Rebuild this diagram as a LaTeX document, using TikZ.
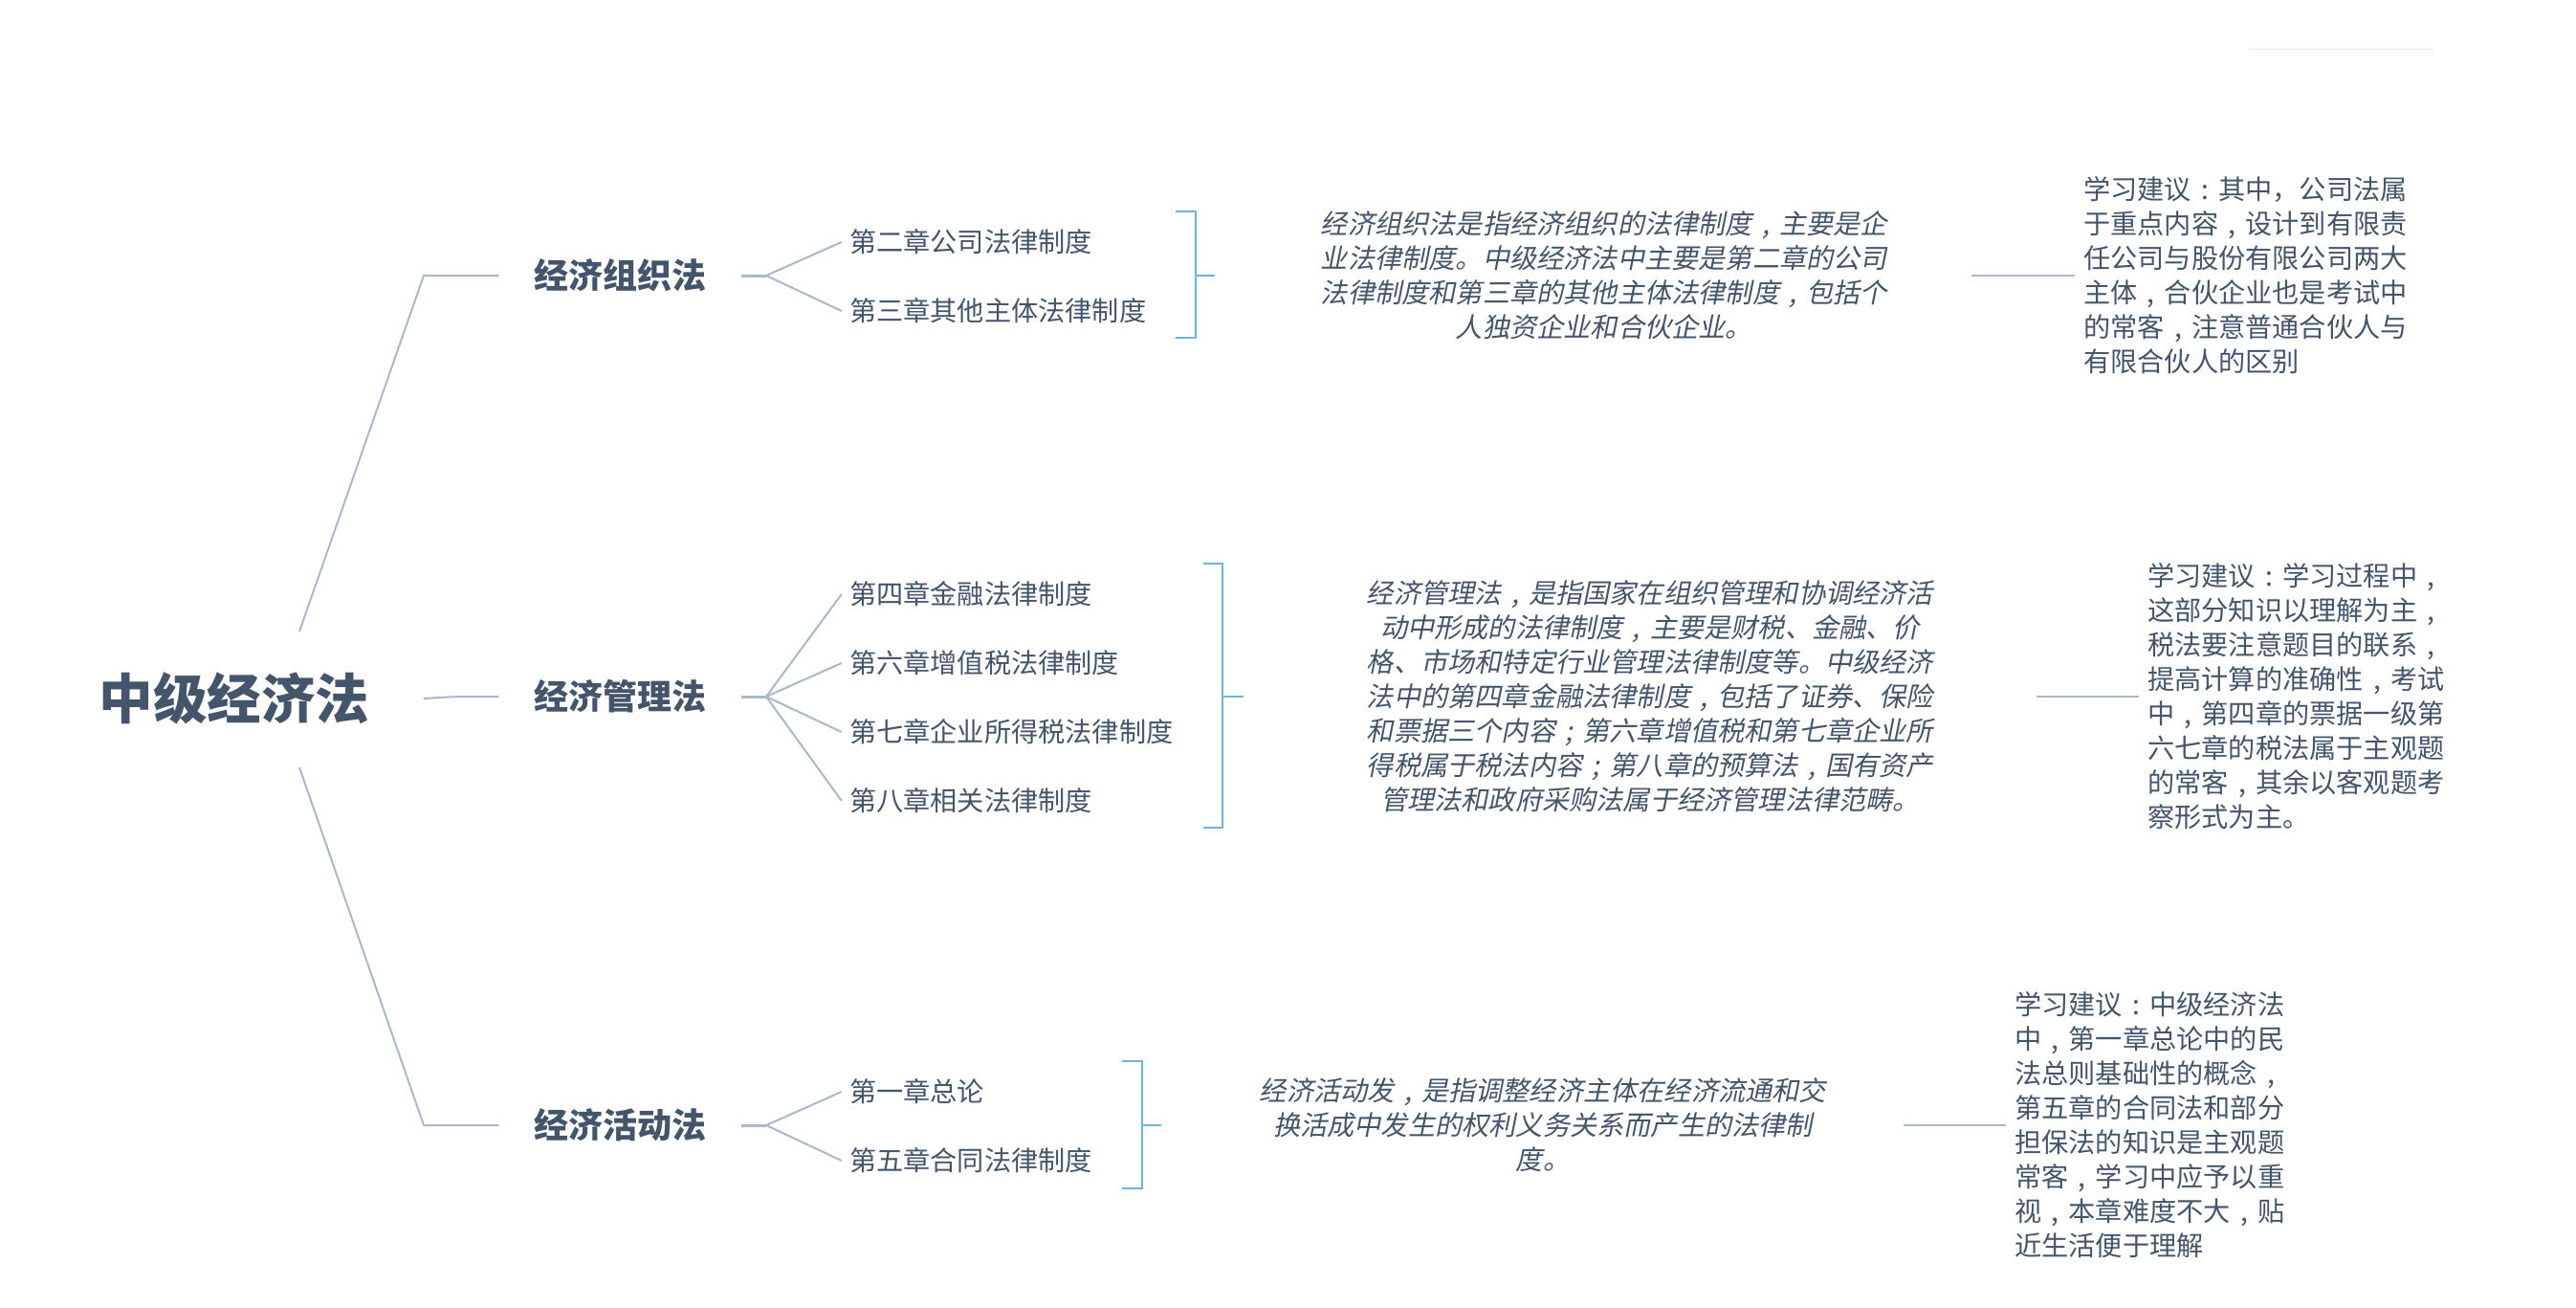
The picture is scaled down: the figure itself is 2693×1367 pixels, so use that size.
\documentclass[tikz,border=0pt]{standalone}
\usepackage{fontspec}
\setmainfont{Noto Sans CJK SC}
\newfontfamily\slantfont[FakeSlant=0.2]{Noto Sans CJK SC}
\usepackage{tikz}
\usetikzlibrary{positioning}
\definecolor{inkblue}{HTML}{44546A}
\definecolor{linegray}{HTML}{A9B8CB}
\definecolor{bracketblue}{HTML}{6FB3E0}
\definecolor{faintpink}{HTML}{FFE3E3}
% punctuation that sits in the middle of its square
\newcommand{\midcomma}{\makebox[1em]{,}}
\newcommand{\midcolon}{\makebox[1em]{:}}
\newcommand{\midsemi}{\makebox[1em]{;}}
\tikzset{
    every node/.style={text=inkblue}, % all the texts share one colour
    node distance=72pt, % specifies the distance between two chapters
    root/.style={font=\fontsize{56.5}{60}\selectfont\bfseries},
    branch/.style={font=\fontsize{36}{40}\selectfont\bfseries, minimum width=253pt, inner sep=0pt},
    chapter/.style={font=\fontsize{28.2}{36}\selectfont, text width=420pt, align=left, inner sep=8pt},
    summary/.style={font=\fontsize{28.2}{36}\slantfont, align=center, inner sep=0pt},
    advice/.style={font=\fontsize{28.2}{36}\selectfont, align=left, inner sep=9pt},
    link/.style={draw=linegray, line width=2pt}, % gray connectors
    brace/.style={draw=bracketblue, line width=2pt}, % blue brackets
}
\begin{document}
\begin{tikzpicture}[x=1pt, y=-1pt]
    \useasboundingbox (0,0) rectangle (2693,1367);
    \node[root] (law) at (245,730) {中级经济法};
    \node[branch] (org) at (648,288) {经济组织法};
    \node[branch] (man) at (648,728) {经济管理法};
    \node[branch] (act) at (648,1176) {经济活动法};
    \coordinate (lawup) at (313,660);
    \coordinate (lawmid) at (443,730);
    \coordinate (lawdown) at (313,802);
    \draw[link] (lawup) -- (443,288) -- (org.west);
    \draw[link] (lawmid) .. controls (475,728) .. (man.west);
    \draw[link] (lawdown) -- (443,1176) -- (act.west);
    % chapters
    \node[chapter] (ch2) at (1098,253) {第二章公司法律制度};
    \node[chapter, below of=ch2] (ch3) {第三章其他主体法律制度};
    \node[chapter] (ch4) at (1098,621) {第四章金融法律制度};
    \node[chapter, below of=ch4] (ch6) {第六章增值税法律制度};
    \node[chapter, below of=ch6] (ch7) {第七章企业所得税法律制度};
    \node[chapter, below of=ch7] (ch8) {第八章相关法律制度};
    \node[chapter] (ch1) at (1098,1141) {第一章总论};
    \node[chapter, below of=ch1] (ch5) {第五章合同法律制度};
    \coordinate (orgfork) at (801,288);
    \coordinate (manfork) at (801,728);
    \coordinate (actfork) at (801,1176);
    \draw[link, line width=3pt] (org.east) -- (orgfork);
    \draw[link, line width=3pt] (man.east) -- (manfork);
    \draw[link, line width=3pt] (act.east) -- (actfork);
    \draw[link]
    (orgfork) edge (ch2.west)
    (orgfork) edge (ch3.west)
    (manfork) edge (ch4.west)
    (manfork) edge (ch6.west)
    (manfork) edge (ch7.west)
    (manfork) edge (ch8.west)
    (actfork) edge (ch1.west)
    (actfork) edge (ch5.west);
    % brackets
    \draw[brace] (1229,221) -- (1250,221) -- (1250,353) -- (1229,353);
    \draw[brace] (1258,589) -- (1278,589) -- (1278,865) -- (1258,865);
    \draw[brace] (1173,1109) -- (1194,1109) -- (1194,1242) -- (1173,1242);
    \coordinate (orgbrace) at (1250,288);
    \coordinate (manbrace) at (1278,728);
    \coordinate (actbrace) at (1194,1176);
    \coordinate (orgstub) at (1270,288);
    \coordinate (manstub) at (1300,728);
    \coordinate (actstub) at (1214,1176);
    \draw[brace]
    (orgbrace) edge (orgstub)
    (manbrace) edge (manstub)
    (actbrace) edge (actstub);
    % summaries
    \node[summary] (orgsum) at (1677,288) {经济组织法是指经济组织的法律制度\midcomma 主要是企\\业法律制度。中级经济法中主要是第二章的公司\\法律制度和第三章的其他主体法律制度\midcomma 包括个\\人独资企业和合伙企业。};
    \node[summary] (mansum) at (1725,728) {经济管理法\midcomma 是指国家在组织管理和协调经济活\\动中形成的法律制度\midcomma 主要是财税、金融、价\\格、市场和特定行业管理法律制度等。中级经济\\法中的第四章金融法律制度\midcomma 包括了证券、保险\\和票据三个内容\midsemi 第六章增值税和第七章企业所\\得税属于税法内容\midsemi 第八章的预算法\midcomma 国有资产\\管理法和政府采购法属于经济管理法律范畴。};
    \node[summary] (actsum) at (1613,1176) {经济活动发\midcomma 是指调整经济主体在经济流通和交\\换活成中发生的权利义务关系而产生的法律制\\度。};
    % advice
    \node[advice, anchor=west] (orgtip) at (2169,288) {学习建议\midcolon 其中，公司法属\\于重点内容\midcomma 设计到有限责\\任公司与股份有限公司两大\\主体\midcomma 合伙企业也是考试中\\的常客\midcomma 注意普通合伙人与\\有限合伙人的区别};
    \node[advice, anchor=west] (mantip) at (2236,728) {学习建议\midcolon 学习过程中\midcomma\\这部分知识以理解为主\midcomma\\税法要注意题目的联系\midcomma\\提高计算的准确性\midcomma 考试\\中\midcomma 第四章的票据一级第\\六七章的税法属于主观题\\的常客\midcomma 其余以客观题考\\察形式为主。};
    \node[advice, anchor=west] (acttip) at (2097,1176) {学习建议\midcolon 中级经济法\\中\midcomma 第一章总论中的民\\法总则基础性的概念\midcomma\\第五章的合同法和部分\\担保法的知识是主观题\\常客\midcomma 学习中应予以重\\视\midcomma 本章难度不大\midcomma 贴\\近生活便于理解};
    \coordinate (orglink) at (2061,288);
    \coordinate (manlink) at (2129,728);
    \coordinate (actlink) at (1990,1176);
    \draw[link]
    (orglink) edge (orgtip.west)
    (manlink) edge (mantip.west)
    (actlink) edge (acttip.west);
    % faint rule top right
    \coordinate (ruleleft) at (2352,52);
    \coordinate (ruleright) at (2544,52);
    \draw[faintpink, line width=1pt] (ruleleft) -- (ruleright);
\end{tikzpicture}
\end{document}
